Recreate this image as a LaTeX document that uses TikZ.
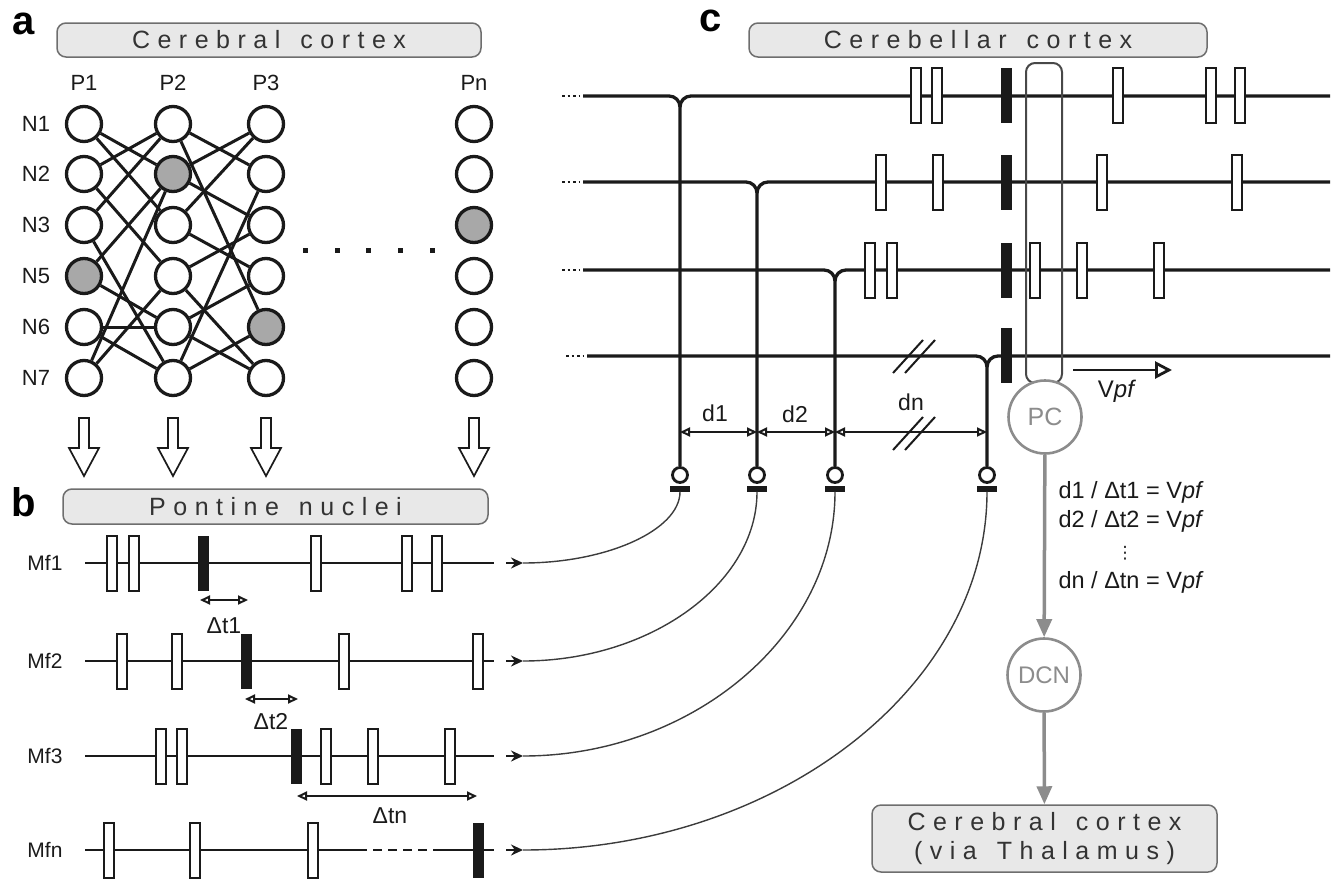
\documentclass[tikz,border=0pt]{standalone}
\usepackage{fontspec}
\setmainfont{Liberation Sans}
\newfontfamily\spaced[LetterSpace=30]{Liberation Sans}
\newfontfamily\dejavu{DejaVu Sans}
\usetikzlibrary{arrows.meta}
\newcommand\wgap{\hspace{20pt}}
\definecolor{ink}{HTML}{1A1A1A}
\definecolor{boxfill}{HTML}{E8E8E8}
\definecolor{boxline}{HTML}{6E6E6E}
\definecolor{boxtext}{HTML}{333333}
\definecolor{actfill}{HTML}{A8A8A8}
\definecolor{pcgray}{HTML}{8C8C8C}
\tikzset{
  neuron/.style={circle,draw=ink,line width=3.3pt,minimum size=35pt,inner sep=0pt,fill=white},
  act22/.style={fill=actfill}, act14/.style={fill=actfill},
  act35/.style={fill=actfill}, act43/.style={fill=actfill},
  link/.style={draw=ink,line width=3pt},
  banner/.style={draw=boxline,fill=boxfill,rounded corners=9pt,line width=1.5pt,text=boxtext,inner sep=0pt,font=\spaced\fontsize{25}{29}\selectfont},
  lab/.style={font=\fontsize{22}{24}\selectfont,text=ink},
  panel/.style={font=\fontsize{40}{44}\selectfont\bfseries,text=black,anchor=base},
  spk/.style={draw=ink,line width=2pt,fill=white,minimum width=9.5pt,minimum height=55pt,inner sep=0pt},
  bspk/.style={fill=ink,minimum width=11pt,minimum height=55pt,inner sep=0pt},
  train/.style={draw=ink,line width=2.6pt},
  pf/.style={draw=ink,line width=3.3pt},
  dim/.style={draw=ink,line width=2pt,{Triangle[open,length=10pt,width=9pt]}-{Triangle[open,length=10pt,width=9pt]}},
  blockarrow/.style={draw=ink,line width=1.7pt,fill=white},
  mfcurve/.style={draw=ink!85,line width=1.4pt},
  tiparrow/.style={draw=ink,line width=1.8pt,-{Stealth[length=12pt,width=11pt]}},
  syn/.style={circle,draw=ink,line width=2.8pt,minimum size=15pt,inner sep=0pt,fill=white},
  synbar/.style={fill=ink,minimum width=20pt,minimum height=6pt,inner sep=0pt},
  gcell/.style={circle,draw=pcgray,line width=2.6pt,minimum size=73pt,inner sep=0pt,fill=white,text=pcgray,font=\fontsize{25}{28}\selectfont},
  garrow/.style={draw=pcgray,line width=3.5pt,-{Triangle[length=18pt,width=15pt]}},
  brk/.style={draw=ink,line width=2pt},
  dots/.style={draw=ink,line width=2.5pt,dash pattern=on 2.5pt off 3pt},
  dendrite/.style={draw=ink!80,line width=2pt,rounded corners=9pt},
}
\begin{document}
\begin{tikzpicture}[x=1pt,y=-1pt]
\useasboundingbox (0,0) rectangle (1340,878);
% ---------------- panel a
\node[panel] (la) at (24,34) {a};
\node[banner,minimum width=424pt,minimum height=34pt] (ccx) at (269,40) {Cerebral\wgap cortex};
\foreach \c/\x/\t in {1/84/P1,2/173/P2,3/266/P3,4/474/Pn}
  \node[lab] (p\c) at (\x,83) {\t};
\foreach \r/\y/\t in {1/124/N1,2/174/N2,3/225/N3,4/276/N5,5/327/N6,6/378/N7}
  \node[lab] (row\r) at (36,\y) {\t};
\foreach \c/\x in {1/84,2/173,3/266,4/474}
  \foreach \r/\y in {1/124,2/174,3/225,4/276,5/327,6/378}
    \node[neuron,act\c\r/.try] (n\c\r) at (\x,\y) {};
\foreach \a/\b in {1/2,1/3,2/1,2/4,3/1,3/6,4/2,4/5,5/5,5/6,6/2,6/4}
  \draw[link] (n1\a) -- (n2\b);
\foreach \a/\b in {1/2,1/5,2/1,2/3,3/1,3/4,4/3,4/6,5/4,5/6,6/5,6/2}
  \draw[link] (n2\a) -- (n3\b);
\foreach \x in {305,337,368,400,432}
  \fill[ink] (\x-2.5,247.5) rectangle ++(5,5);
\foreach \x in {84,173,266,474}
  \draw[blockarrow] (\x-5,418) -- (\x-5,448) -- (\x-15,448) -- (\x,476) -- (\x+15,448) -- (\x+5,448) -- (\x+5,418) -- cycle;
% ---------------- panel b
\node[panel] (lb) at (24,516) {b};
\node[banner,minimum width=425pt,minimum height=35pt] (pn) at (275.5,506.5) {Pontine\wgap nuclei};
\foreach \i/\y/\t in {1/563/Mf1,2/661/Mf2,3/756/Mf3,4/850/Mfn}{
  \node[lab,font=\fontsize{21}{24}\selectfont] (mfl\i) at (45,\y) {\t};
  \coordinate (ms\i) at (85,\y);
  \coordinate (me\i) at (494,\y);
  \coordinate (tt\i) at (506,\y);
  \coordinate (t\i) at (523,\y);
}
\draw[train] (ms1) -- (me1);
\draw[train] (ms2) -- (me2);
\draw[train] (ms3) -- (me3);
\draw[train] (ms4) -- (358,850);
\draw[train,dash pattern=on 9pt off 6pt] (358,850) -- (433,850);
\draw[train] (433,850) -- (me4);
\foreach \x in {112,134,316,407,437} \node[spk] at (\x,563) {};
\node[bspk] (bk1) at (203,563) {};
\foreach \x in {122,177,344,478} \node[spk] at (\x,661) {};
\node[bspk] (bk2) at (246,661) {};
\foreach \x in {161,182,326,373,450} \node[spk] at (\x,756) {};
\node[bspk] (bk3) at (296,756) {};
\foreach \x in {109,195,313} \node[spk] at (\x,850) {};
\node[bspk] (bk4) at (478,850) {};
\draw[dim] (200,600) -- (248,600);
\node[lab,font=\fontsize{23}{24}\selectfont] (dt1) at (224,626) {Δt1};
\draw[dim] (245,699) -- (298,699);
\node[lab,font=\fontsize{23}{24}\selectfont] (dt2) at (271,722) {Δt2};
\draw[dim] (297,796) -- (477,796);
\node[lab,font=\fontsize{23}{24}\selectfont] (dtn) at (390,816) {Δtn};
% ---------------- panel c
\node[panel] (lc) at (711,31) {c};
\node[banner,minimum width=458pt,minimum height=34pt] (cbx) at (978,40) {Cerebellar\wgap cortex};
% synapses
\foreach \i/\x in {1/680,2/757,3/835,4/987}{
  \node[syn] (s\i) at (\x,475) {};
  \node[synbar] (sb\i) at (\x,488.5) {};
}
% parallel fibres with T-junctions
\foreach \i/\y/\x/\s in {1/96/680/583,2/182/757/583,3/270/835/583,4/356/987/587}{
  \coordinate (pw\i) at (\s,\y);
  \coordinate (pe\i) at (1330,\y);
  \draw[pf] (pw\i) -- (\x-11,\y) to[out=0,in=90] (\x,\y+11) -- (s\i.north);
  \draw[pf] (pe\i) -- (\x+11,\y) to[out=180,in=90] (\x,\y+11);
  \draw[dots] (\s-21,\y) -- (\s-3,\y);
}
% dendrite of PC
\draw[dendrite] (1026,63) rectangle (1062,383);
% spikes on parallel fibres
\foreach \x in {916,937,1118,1211,1240} \node[spk] at (\x,95) {};
\node[bspk] at (1006,95) {};
\foreach \x in {881,938,1102,1237} \node[spk] at (\x,182) {};
\node[bspk] at (1006,182) {};
\foreach \x in {870,892,1035,1082,1159} \node[spk] at (\x,270) {};
\node[bspk] at (1006,270) {};
\node[bspk] at (1006,355) {};
% breaks
\draw[brk] (893,373) -- (923,340);
\draw[brk] (905,373) -- (935,340);
% distances
\draw[dim] (680,432) -- (757,432);
\draw[dim] (757,432) -- (835,432);
\draw[dim] (835,432) -- (987,432);
\draw[brk] (893,450) -- (923,417);
\draw[brk] (905,450) -- (935,417);
\node[lab,font=\fontsize{23}{24}\selectfont] (d1) at (715,413) {d1};
\node[lab,font=\fontsize{23}{24}\selectfont] (d2) at (795,414) {d2};
\node[lab,font=\fontsize{23}{24}\selectfont] (dn) at (911,402) {dn};
% PC, Vpf
\node[gcell] (pc) at (1045,417) {PC};
\coordinate (vs) at (1073,370);
\coordinate (ve) at (1172,370);
\draw[draw=ink,line width=2.8pt,-{Triangle[open,length=17pt,width=17pt]}] (vs) -- (ve);
\node[lab,font=\fontsize{24}{26}\selectfont] (vpf) at (1117,391) {V\textit{pf}};
% equations
\node[lab,font=\fontsize{23.5}{26}\selectfont,anchor=west] (eq1) at (1055,492) {d1 / Δt1 = V\textit{pf}};
\node[lab,font=\fontsize{23.5}{26}\selectfont,anchor=west] (eq2) at (1055,521) {d2 / Δt2 = V\textit{pf}};
\node[lab,font=\dejavu\fontsize{17}{20}\selectfont] (eqd) at (1125,553) {⋮};
\node[lab,font=\fontsize{23.5}{26}\selectfont,anchor=west] (eq3) at (1055,582) {dn / Δtn = V\textit{pf}};
% DCN and output
\node[gcell,font=\fontsize{24}{26}\selectfont] (dcn) at (1044,675) {DCN};
\node[banner,minimum width=345pt,minimum height=67pt,align=center] (thal) at (1044.5,838.5) {Cerebral\wgap cortex\\(via\wgap Thalamus)};
\draw[garrow] (pc) -- (dcn);
\draw[garrow] (dcn) -- (thal);
% mossy fibre curves
\foreach \i in {1,2,3,4} \draw[tiparrow] (tt\i) -- (t\i);
\draw[mfcurve] (t1) .. controls (607,563) and (680,530) .. (sb1.south);
\draw[mfcurve] (t2) .. controls (650,661) and (757,584) .. (sb2.south);
\draw[mfcurve] (t3) .. controls (692,756) and (835,636) .. (sb3.south);
\draw[mfcurve] (t4) .. controls (776,850) and (987,688) .. (sb4.south);
\end{tikzpicture}
\end{document}
